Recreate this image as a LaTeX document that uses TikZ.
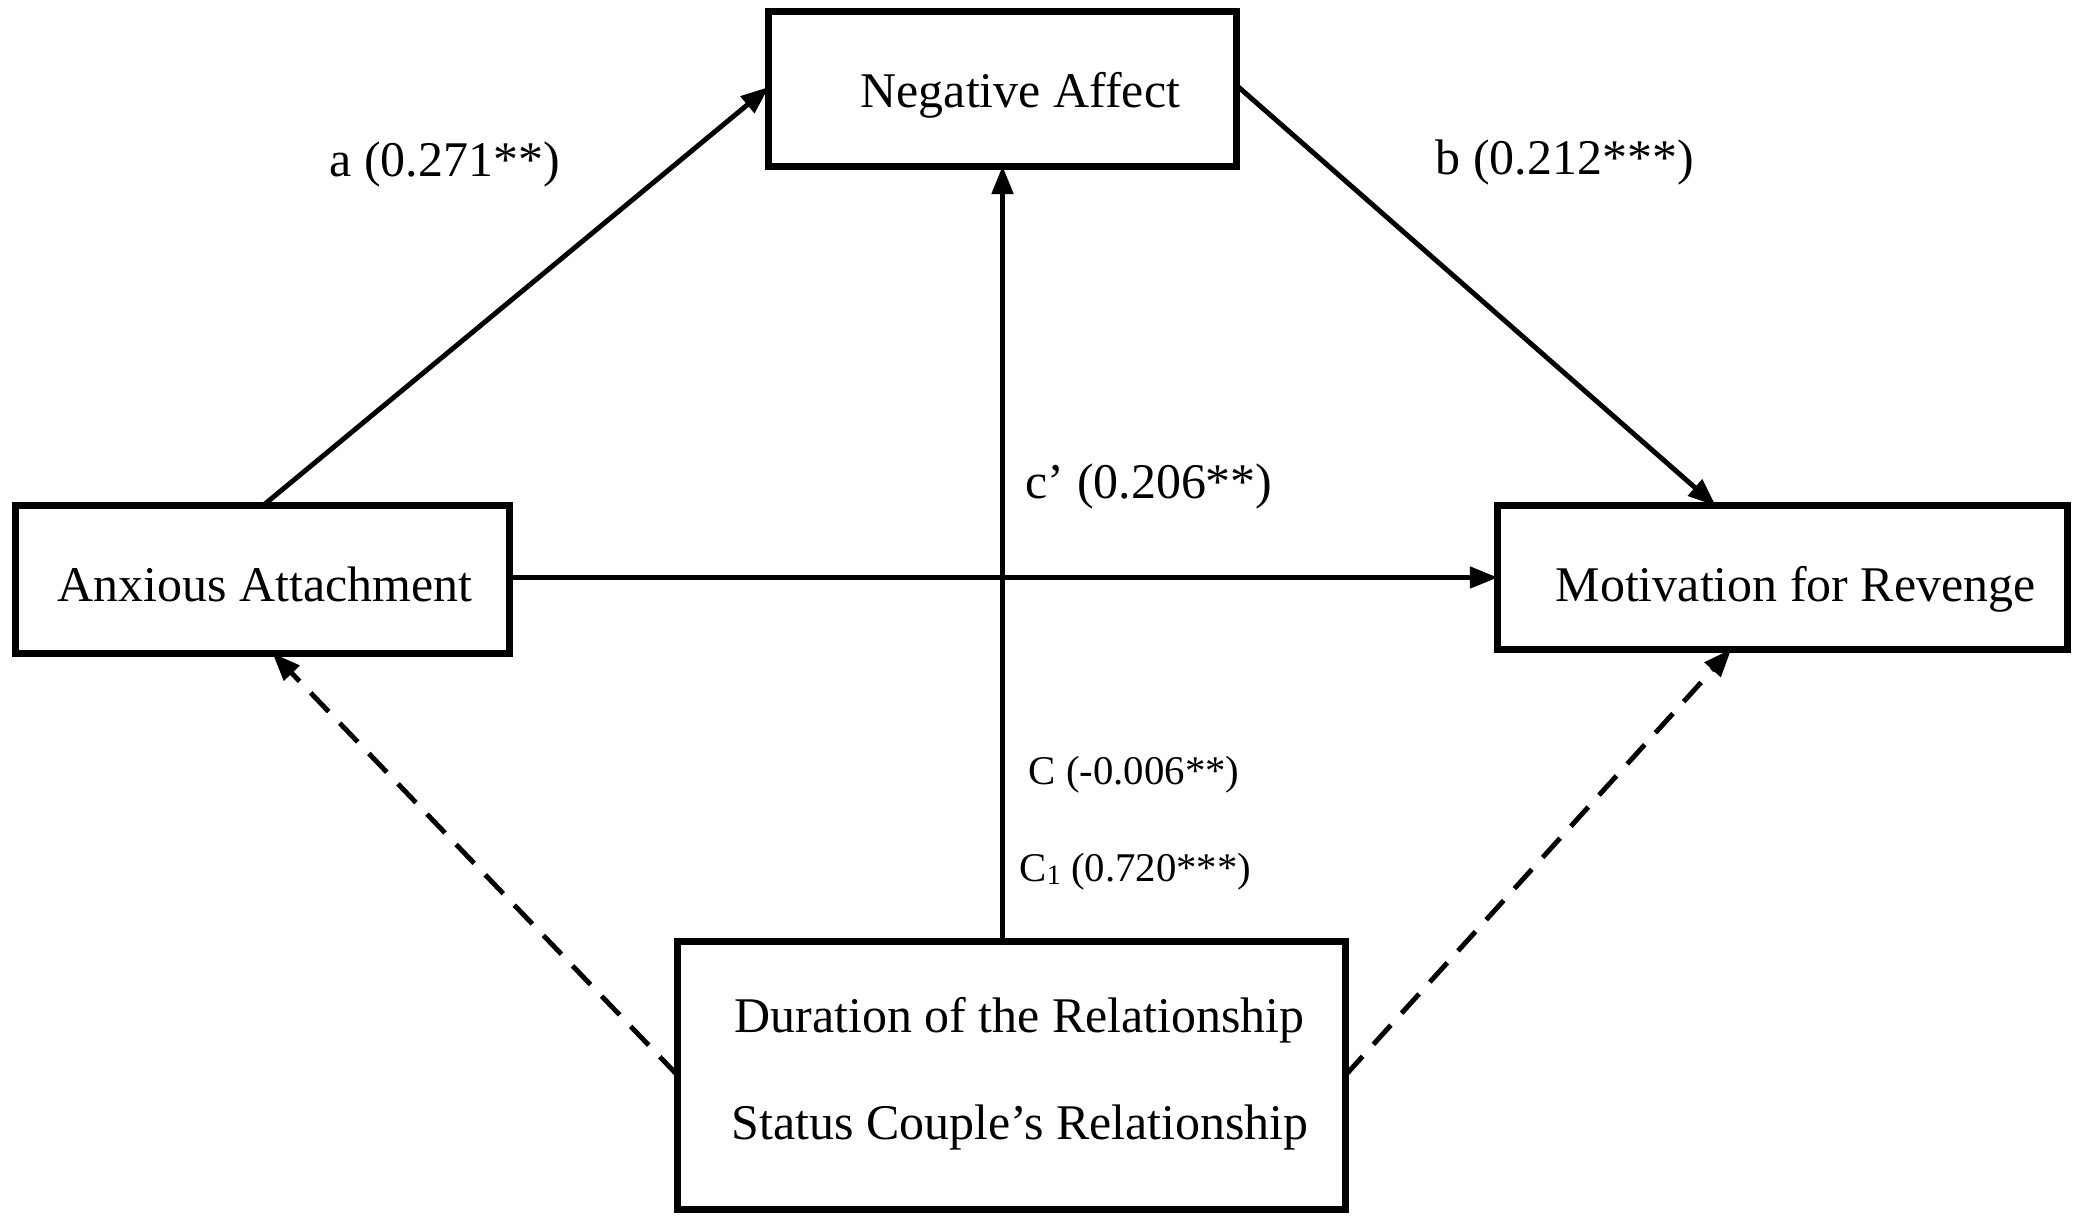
\documentclass[tikz,border=0pt]{standalone}
\usepackage{fontspec}
\setmainfont{Liberation Serif}
\usetikzlibrary{arrows.meta,calc}
\begin{document}
\begin{tikzpicture}[x=0.01cm,y=-0.01cm,
  box/.style={draw=black,line width=2pt,fill=none,inner sep=0pt,outer sep=0pt},
  txt/.style={anchor=base west,inner sep=0pt,font=\fontsize{14.2}{17}\selectfont},
  smalltxt/.style={anchor=base west,inner sep=0pt,font=\fontsize{11.6}{14}\selectfont},
  conn/.style={line width=1.4pt,-{Triangle[length=0.28cm,width=0.21cm]}},
  dconn/.style={conn,dash pattern=on 0.26cm off 0.16cm}]
\useasboundingbox (0,0) rectangle (2080,1224);
\fill[white] (0,0) rectangle (2080,1224);
% boxes
\node[box,minimum width=4.67cm,minimum height=1.54cm] (na) at (1002.5,89) {};
\node[box,minimum width=4.93cm,minimum height=1.47cm] (anx) at (262.5,579.5) {};
\node[box,minimum width=5.69cm,minimum height=1.43cm] (mot) at (1782.5,577.5) {};
\node[box,minimum width=6.67cm,minimum height=2.67cm] (dur) at (1011.5,1075.5) {};
% box texts
\node[txt] (natxt) at (860,107) {Negative Affect};
\node[txt] (anxtxt) at (57,601) {Anxious Attachment};
\node[txt] (mottxt) at (1555,601) {Motivation for Revenge};
\node[txt] (durtxt1) at (734,1032) {Duration of the Relationship};
\node[txt] (durtxt2) at (731,1139) {Status Couple’s Relationship};
% connectors
\draw[conn] (anx.north) -- ($(na.west)+(0,-2)$);
\draw[conn] ($(na.east)+(0,-4)$) -- ($(mot.north west)!0.383!(mot.north east)$);
\draw[conn] (anx.east |- mot.west) -- (mot.west);
\draw[conn] (dur.north -| na.south) -- (na.south);
\draw[dconn] (dur.west) -- ($(anx.south)+(10,0)$);
\draw[dconn] (dur.east) -- ($(mot.south west)!0.41!(mot.south east)$);
% labels
\node[txt] (la) at (329,176) {a (0.271**)};
\node[txt] (lb) at (1435,174) {b (0.212***)};
\node[txt] (lc) at (1025,498) {c’ (0.206**)};
\node[smalltxt] (lC) at (1028,784) {C (-0.006**)};
\node[smalltxt] (lC1) at (1019,881) {C{\fontsize{8}{9}\selectfont\raisebox{-0.25ex}{1}} (0.720***)};
\end{tikzpicture}
\end{document}
